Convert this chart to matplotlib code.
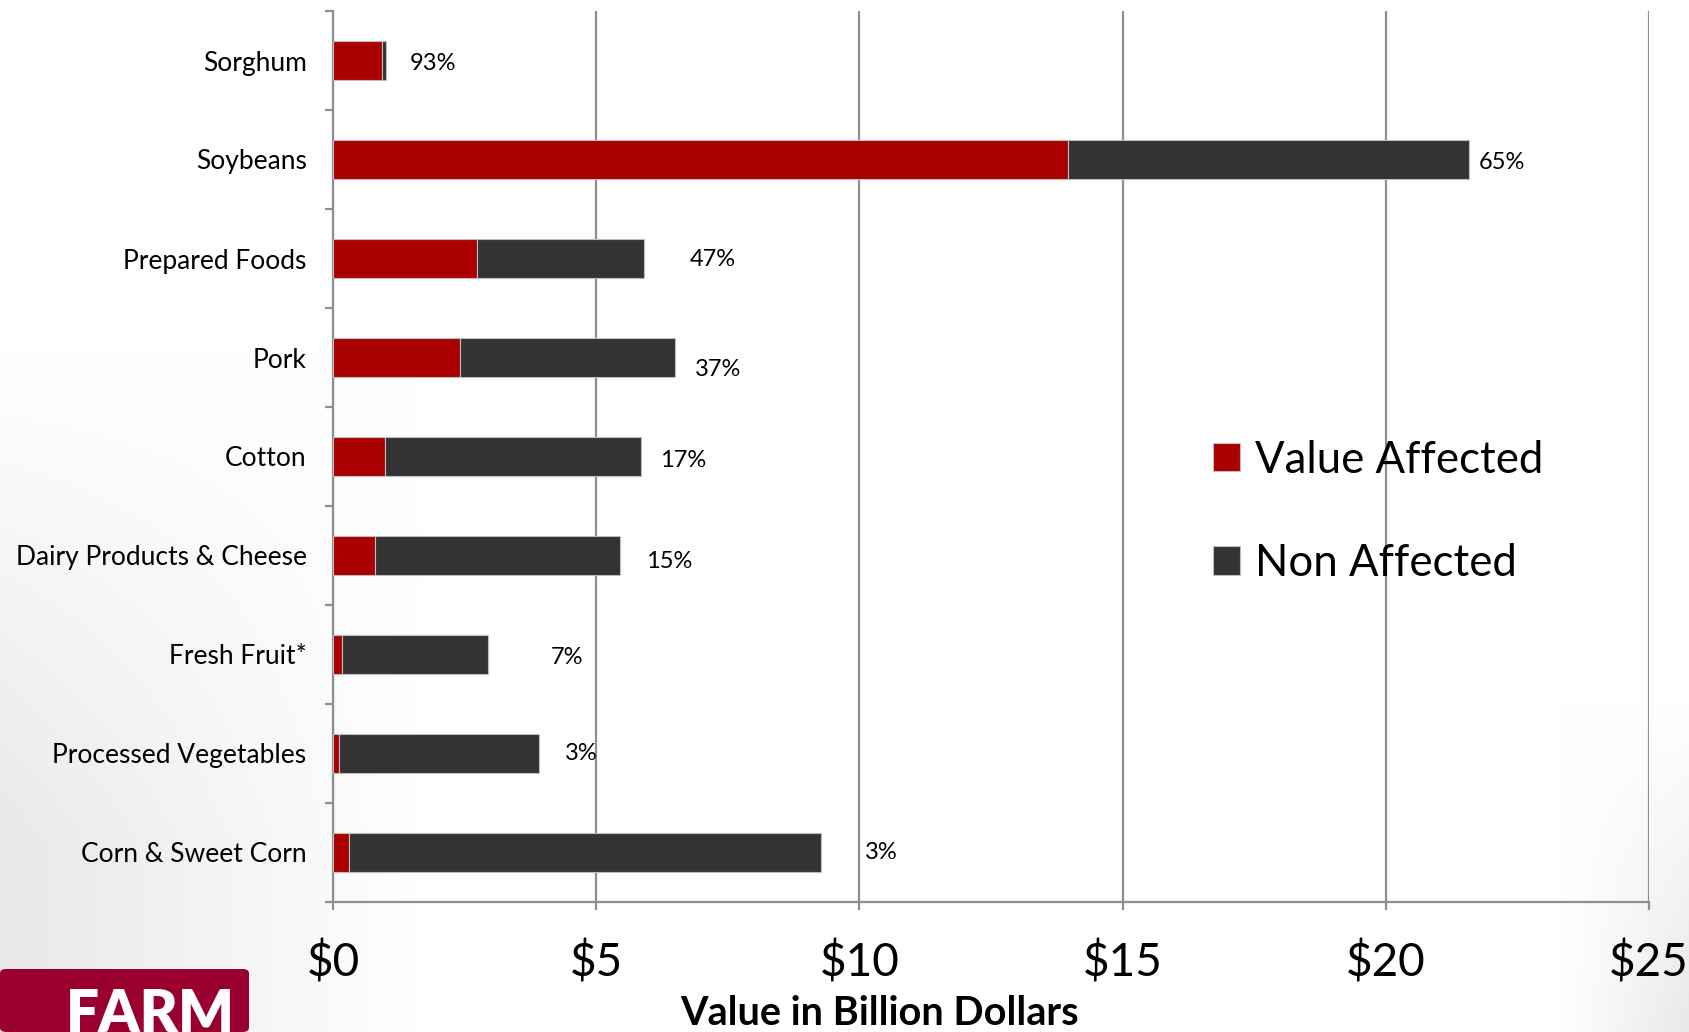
import matplotlib
matplotlib.use("Agg")
import matplotlib.pyplot as plt
import numpy as np
from matplotlib.patches import FancyBboxPatch

plt.rcParams['font.family'] = ['Lato', 'DejaVu Sans']

# ---- data (top to bottom as displayed) ----
categories = ["Sorghum", "Soybeans", "Prepared Foods", "Pork", "Cotton",
              "Dairy Products & Cheese", "Fresh Fruit*", "Processed Vegetables",
              "Corn & Sweet Corn"]
affected = [0.93, 13.97, 2.74, 2.41, 0.98, 0.80, 0.18, 0.12, 0.31]
non_affected = [0.07, 7.61, 3.17, 4.08, 4.87, 4.66, 2.77, 3.79, 8.96]
pct_labels = ["93%", "65%", "47%", "37%", "17%", "15%", "7%", "3%", "3%"]
label_dx = [0.45, 0.19, 0.86, 0.38, 0.37, 0.49, 1.18, 0.49, 0.84]
label_dy = [0.03, 0.03, 0.01, 0.12, 0.04, 0.06, 0.03, 0.0, 0.0]
xticks = [0, 5, 10, 15, 20, 25]
xtick_labels = ["$0", "$5", "$10", "$15", "$20", "$25"]

W, H = 1689, 1032
fig = plt.figure(figsize=(W / 100, H / 100), dpi=100)

# background slide gradient
bg = fig.add_axes([0, 0, 1, 1], zorder=-10)
yy, xx = np.mgrid[0:H, 0:W]
left = np.clip(1 - xx / 420.0, 0, 1) * np.clip((yy - 350) / 500.0, 0, 1)
right = np.clip((xx - 1560) / 130.0, 0, 1) * np.clip((yy - 700) / 330.0, 0, 1)
shade = 1 - 0.09 * np.maximum(left, right)
bg.imshow(np.dstack([shade, shade, shade]), extent=[0, 1, 0, 1], aspect='auto')
bg.axis('off')

ax = fig.add_axes([333 / W, 1 - 902 / H, (1649 - 333) / W, (902 - 11) / H])
ax.patch.set_alpha(0)

y = np.arange(len(categories))
red = "#AA0000"
dark = "#333333"
edge = "#bdbdbd"
ax.barh(y, affected, height=0.4, color=red, edgecolor=edge, linewidth=0.8,
        label="Value Affected", zorder=3)
ax.barh(y, non_affected, left=affected, height=0.4, color=dark, edgecolor=edge,
        linewidth=0.8, label="Non Affected", zorder=3)

for i in range(len(categories)):
    total = affected[i] + non_affected[i]
    ax.text(total + label_dx[i], y[i] + label_dy[i], pct_labels[i],
            ha='left', va='center', fontsize=17, color='black', zorder=4)

ax.set_xlim(0, 25)
ax.set_ylim(len(categories) - 0.5, -0.5)

grid_c = "#8f8f8f"
ax.set_xticks(xticks)
ax.set_xticklabels(xtick_labels, fontsize=33)
ax.xaxis.grid(True, color=grid_c, linewidth=1.6, zorder=0)
ax.tick_params(axis='x', length=6, width=1.6, color=grid_c, pad=22)

ax.set_yticks(y)
ax.set_yticklabels(categories, fontsize=19)
ax.set_yticks(np.arange(len(categories) + 1) - 0.5, minor=True)
ax.tick_params(axis='y', which='major', length=0, pad=19)
ax.tick_params(axis='y', which='minor', length=6, width=1.6, color=grid_c)

for s in ['top', 'right']:
    ax.spines[s].set_visible(False)
for s in ['left', 'bottom']:
    ax.spines[s].set_color(grid_c)
    ax.spines[s].set_linewidth(1.6)

fig.text(0.5205, 1 - 995 / H, "Value in Billion Dollars", ha='center', va='top',
         fontsize=28.5, fontweight='bold', color='black')

leg = ax.legend(loc='upper left', bbox_to_anchor=(1195 / W, 1 - 422 / H),
                bbox_transform=fig.transFigure, frameon=False, fontsize=31.5,
                handlelength=0.62, handleheight=0.62, handletextpad=0.35,
                labelspacing=1.43, borderaxespad=0)

# FARM logo
logo = FancyBboxPatch((0, 0), 249 / W, (1032 - 969) / H,
                      boxstyle="round,pad=0,rounding_size=0.004",
                      transform=fig.transFigure, facecolor="#990030",
                      edgecolor='none', zorder=5)
fig.patches.append(logo)
fig.text(150 / W, 1 - 988 / H, "FARM", ha='center', va='top', fontsize=42,
         fontweight='heavy', color='white', zorder=6)

fig.savefig("out.png", dpi=100)
